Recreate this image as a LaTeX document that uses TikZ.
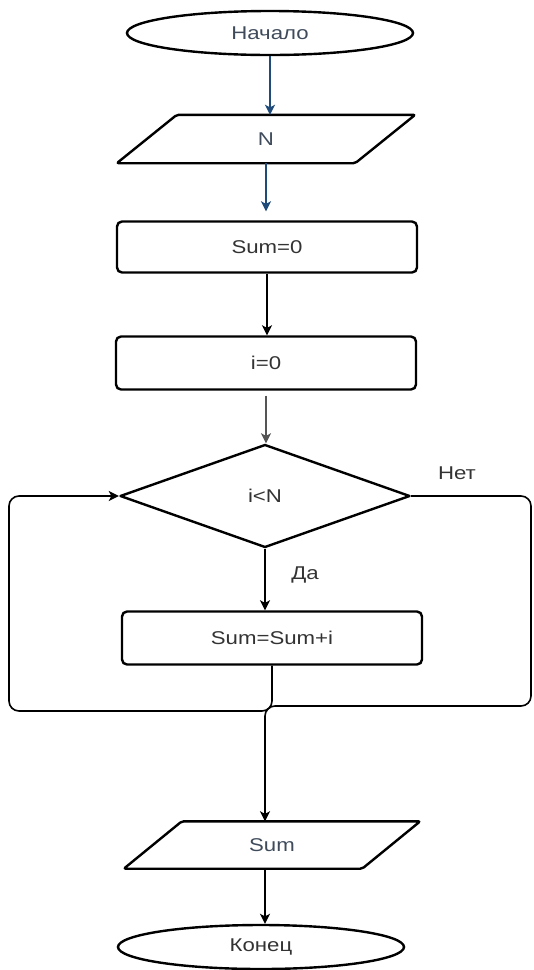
\documentclass[tikz,border=0pt]{standalone}
\usepackage{fontspec}
\newfontfamily\lbl[FakeStretch=1.2]{Liberation Sans}
\usetikzlibrary{shapes.geometric,arrows.meta}
\definecolor{flowblue}{HTML}{1F4B7A}
\definecolor{labelblue}{HTML}{3F4B5B}
\definecolor{labeldark}{HTML}{333333}
\definecolor{linegray}{HTML}{555555}
\begin{document}
\begin{tikzpicture}[x=1pt,y=-1pt,
  every node/.style={font=\lbl\fontsize{18.5}{22}\selectfont, text=labeldark},
  term/.style={ellipse, draw, line width=2.4pt, minimum width=286pt, minimum height=44pt, inner sep=0pt},
  iobox/.style={rectangle, minimum width=238pt, inner sep=0pt},
  ioline/.style={draw, line width=2.4pt, line join=round, rounded corners=2pt},
  proc/.style={rectangle, draw, rounded corners=5pt, line width=2.4pt, minimum width=300pt, minimum height=52pt, inner sep=0pt},
  decision/.style={diamond, draw, line width=2.4pt, line join=round, minimum width=290pt, minimum height=103pt, inner sep=0pt},
  link/.style={line width=1.6pt, -{Stealth[length=10pt,width=10pt,inset=2.5pt]}},
  ]
\useasboundingbox (0,0) rectangle (534,970);

% terminals, input/output, processes, decision
\node[term, text=labelblue] (start) at (270,33) {Начало};

\node[iobox, minimum height=48pt, text=labelblue] (inp) at (266,139) {N};
\draw[ioline] ([xshift=-30pt]inp.south west) -- ([xshift=30pt]inp.north west)
  -- ([xshift=30pt]inp.north east) -- ([xshift=-30pt]inp.south east) -- cycle;

\node[proc, minimum height=51pt] (sum0) at (267,247) {Sum=0};
\node[proc, minimum height=53pt] (i0) at (266,363) {i=0};
\node[decision] (decide) at (265,496) {i<N};
\node[proc, minimum height=53pt] (body) at (272,638) {Sum=Sum+i};

\node[iobox, minimum height=47pt, text=labelblue] (outp) at (272,845) {Sum};
\draw[ioline] ([xshift=-29pt]outp.south west) -- ([xshift=29pt]outp.north west)
  -- ([xshift=29pt]outp.north east) -- ([xshift=-29pt]outp.south east) -- cycle;

\node[term] (finish) at (261,947) {Конец};

% branch labels
\node (no) at (457,473) {Нет};
\node (yes) at (305,575) {Да};

% corner points of the two loop connectors
\coordinate (rr) at (531,706);
\coordinate (jn) at (265,706);
\coordinate (lb) at (9,711);

% straight connectors
\draw[link, flowblue] (start.south) -- (start.south |- inp.north);
\draw[link, flowblue, shorten >=9pt] (inp.south) -- (inp.south |- sum0.north);
\draw[link] (sum0.south) -- (sum0.south |- i0.north);
\draw[link, linegray, shorten <=5pt] (i0.south) -- (i0.south |- decide.north);
\draw[link] (decide.south) -- (decide.south |- body.north);

% "no" branch: round the right side down to the output
\draw[link, rounded corners=10pt] (decide.east) -| (rr) -- (jn) -- (jn |- outp.north);

% loop back from the body to the decision
\draw[link, rounded corners=10pt] (body.south) |- (lb) |- (decide.west);

\draw[link] (jn |- outp.south) -- (jn |- finish.north);
\end{tikzpicture}
\end{document}
